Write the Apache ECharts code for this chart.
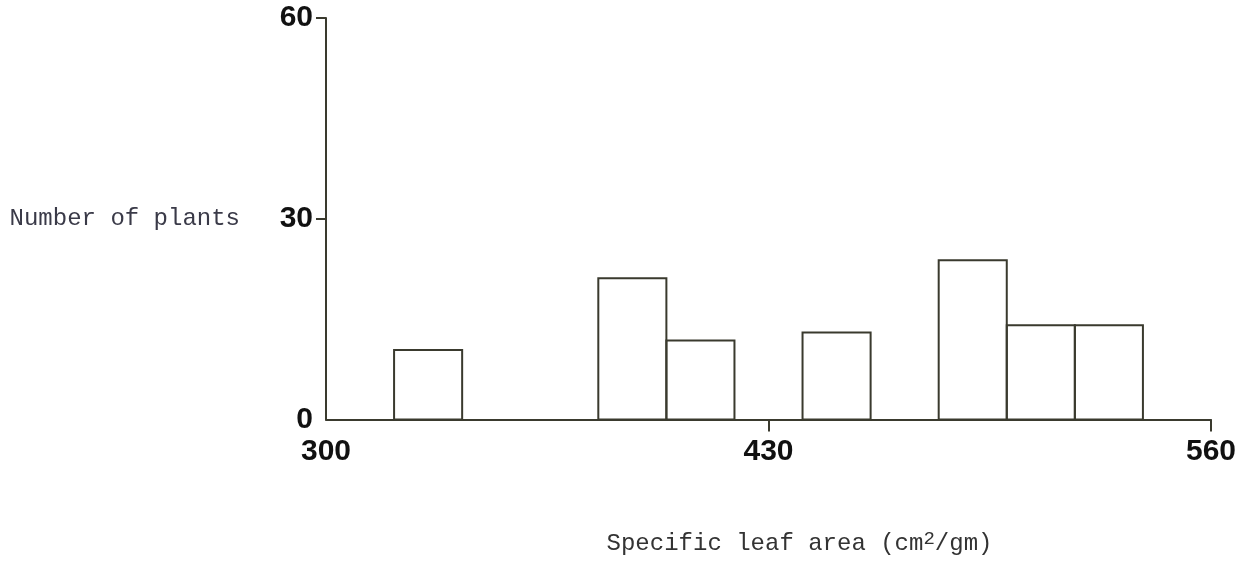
<!DOCTYPE html>
<html>
<head>
<meta charset="utf-8">
<script src="https://cdn.jsdelivr.net/npm/echarts@6/dist/echarts.min.js"></script>
<style>
  html, body { margin: 0; padding: 0; background: #fff; }
  #chart { width: 1254px; height: 561px; }
</style>
</head>
<body>
<div id="chart"></div>
<script>
// histogram bins: start of each bin (cm2/gm), bin width, number of plants
var binStarts = [320, 380, 400, 440, 480, 500, 520];
var binWidth = 20;
var counts = [10.4, 21.1, 11.8, 13, 23.8, 14.1, 14.1];
var xTicks = [300, 430, 560];
var yTicks = [0, 30, 60];

var ink = '#3a3a2e';
var chart = echarts.init(document.getElementById('chart'));

var data = binStarts.map(function(s, i) {
    return [s, s + binWidth, counts[i]];
});

var option = {
    animation: false,
    grid: { left: 326, right: 43, top: 18, bottom: 136 },
    xAxis: {
        type: 'value',
        min: 300,
        max: 560,
        interval: 130,
        splitLine: { show: false },
        axisLine: { lineStyle: { color: ink, width: 2 } },
        axisTick: { customValues: [430, 560], length: 12, lineStyle: { color: ink, width: 2 } },
        axisLabel: {
            customValues: xTicks,
            margin: 17,
            color: '#111',
            fontFamily: 'Liberation Sans',
            fontWeight: 'bold',
            fontSize: 30
        },
        name: 'Specific leaf area (cm{sup|2}/gm)',
        nameLocation: 'middle',
        nameGap: 110,
        nameTextStyle: {
            color: '#333',
            fontFamily: 'Liberation Mono',
            fontSize: 24,
            padding: [0, 0, 0, 62],
            rich: {
                sup: { fontFamily: 'Liberation Mono', fontSize: 19, color: '#333', verticalAlign: 'top', padding: [0, 0, 10, 0] }
            }
        }
    },
    yAxis: {
        type: 'value',
        min: 0,
        max: 60,
        interval: 30,
        splitLine: { show: false },
        axisLine: { show: true, lineStyle: { color: ink, width: 2 } },
        axisTick: { show: true, customValues: [30, 60], length: 10, lineStyle: { color: ink, width: 2 } },
        axisLabel: {
            customValues: yTicks,
            margin: 13,
            color: '#111',
            fontFamily: 'Liberation Sans',
            fontWeight: 'bold',
            fontSize: 30
        },
        name: 'Number of plants',
        nameLocation: 'middle',
        nameRotate: 0,
        nameGap: 86,
        nameTextStyle: {
            color: '#3a3a48',
            fontFamily: 'Liberation Mono',
            fontSize: 24,
            align: 'right'
        }
    },
    series: [{
        type: 'custom',
        data: data,
        encode: { x: [0, 1], y: 2 },
        renderItem: function(params, api) {
            var p0 = api.coord([api.value(0), 0]);
            var p1 = api.coord([api.value(1), api.value(2)]);
            return {
                type: 'rect',
                shape: { x: p0[0], y: p1[1], width: p1[0] - p0[0], height: p0[1] - p1[1] },
                style: { fill: 'none', stroke: ink, lineWidth: 2 }
            };
        }
    }]
};

chart.setOption(option);
</script>
</body>
</html>
